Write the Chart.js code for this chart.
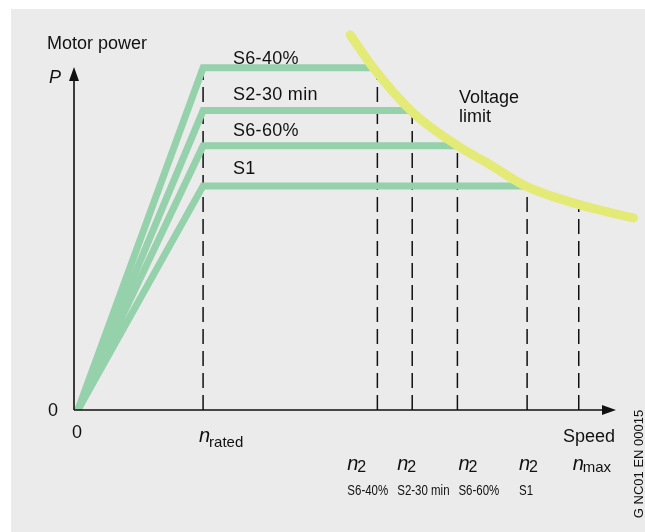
<!DOCTYPE html>
<html>
<head>
<meta charset="utf-8">
<script src="https://cdn.jsdelivr.net/npm/chart.js@4.4.1/dist/chart.umd.min.js"></script>
<style>
  body { margin: 0; background: #ffffff; }
  #wrap { position: relative; width: 645px; height: 532px; }
  #panel { position: absolute; left: 11px; top: 9px; right: 0; bottom: 0; background: #ebebeb; }
  #chart { position: absolute; left: 0; top: 0; }
</style>
</head>
<body>
<div id="wrap">
  <div id="panel"></div>
  <canvas id="chart" width="645" height="532"></canvas>
</div>
<script>
// speed in multiples of n_rated, power in multiples of S1 power
const nStart = 0.03;
const nRated = 1.0;
const nMax = 3.91;
const dutyNames = ['S6-40%', 'S2-30 min', 'S6-60%', 'S1'];
const dutyPower = [1.527, 1.336, 1.179, 1.0];
const dutyEnd = [2.31, 2.62, 2.97, 3.50];
const n2Speed = [2.35, 2.62, 2.97, 3.51];
const n2Names = ['S6-40%', 'S2-30 min', 'S6-60%', 'S1'];
const limitSpeed = [2.14, 2.318, 2.62, 2.969, 3.225, 3.496, 3.922, 4.333];
const limitPower = [1.674, 1.527, 1.33, 1.18, 1.094, 1.0, 0.915, 0.857];
const nMaxPower = 0.9;

const green = '#95d1ab';
const yellow = '#e3ea76';
const ink = '#111111';

const datasets = [];
datasets.push({
  label: 'Voltage limit',
  data: limitSpeed.map(function (n, i) { return { x: n, y: limitPower[i] }; }),
  borderColor: yellow, borderWidth: 9, borderCapStyle: 'round',
  cubicInterpolationMode: 'monotone', clip: false, order: 0
});
dutyNames.forEach(function (name, i) {
  datasets.push({
    label: name,
    data: [{ x: nStart, y: 0 }, { x: nRated, y: dutyPower[i] }, { x: dutyEnd[i], y: dutyPower[i] }],
    borderColor: green, borderWidth: 7, tension: 0,
    clip: { left: 0, top: false, right: false, bottom: 0 }, order: 1
  });
});
// dashed guides, drawn from the axis upward
const guides = [[nRated, dutyPower[0]]];
n2Speed.forEach(function (n, i) { guides.push([n, dutyPower[i]]); });
guides.push([nMax, nMaxPower]);
guides.forEach(function (g) {
  datasets.push({
    label: 'guide',
    data: [{ x: g[0], y: 0 }, { x: g[0], y: g[1] }],
    borderColor: ink, borderWidth: 1.5, borderDash: [15, 7], tension: 0,
    clip: false, order: 2
  });
});

function txt(ctx, s, x, y, font, align) {
  ctx.font = font;
  ctx.textAlign = align || 'left';
  ctx.textBaseline = 'alphabetic';
  ctx.fillText(s, x, y);
}

const overlay = {
  id: 'overlay',
  afterDatasetsDraw(chart) {
    const ctx = chart.ctx;
    const xs = chart.scales.x, ys = chart.scales.y;
    const x0 = xs.getPixelForValue(0), y0 = ys.getPixelForValue(0);
    const yTip = 67, xTip = 616;
    ctx.save();
    ctx.strokeStyle = ink; ctx.fillStyle = ink; ctx.lineWidth = 1.6;
    ctx.beginPath();
    ctx.moveTo(x0, y0); ctx.lineTo(x0, yTip + 10);
    ctx.moveTo(x0, y0); ctx.lineTo(xTip - 10, y0);
    ctx.stroke();
    ctx.beginPath();
    ctx.moveTo(x0, yTip); ctx.lineTo(x0 - 5, yTip + 14); ctx.lineTo(x0 + 5, yTip + 14); ctx.closePath();
    ctx.moveTo(xTip, y0); ctx.lineTo(xTip - 14, y0 - 5); ctx.lineTo(xTip - 14, y0 + 5); ctx.closePath();
    ctx.fill();

    const F = "'Liberation Sans', Arial, sans-serif";
    txt(ctx, 'Motor power', 47, 49, '18px ' + F);
    txt(ctx, 'P', 49, 83, 'italic 18px ' + F);
    ctx.textBaseline = 'middle';
    ctx.font = '18px ' + F; ctx.textAlign = 'center';
    ctx.fillText('0', x0 - 21, y0 + 1);
    txt(ctx, '0', x0 + 3, 438, '18px ' + F, 'center');
    txt(ctx, 'Speed', 615, 442, '18px ' + F, 'right');

    // duty labels above the flat parts
    const lblDy = [-4, -11, -10, -12];
    dutyNames.forEach(function (name, i) {
      ctx.save();
      ctx.letterSpacing = '0.3px';
      txt(ctx, name, 233, ys.getPixelForValue(dutyPower[i]) + lblDy[i], '18px ' + F);
      ctx.restore();
    });
    txt(ctx, 'Voltage', 459, 103, '18px ' + F);
    txt(ctx, 'limit', 459, 122, '18px ' + F);

    // speed labels
    const pr = xs.getPixelForValue(nRated) - 4;
    txt(ctx, 'n', pr, 442, 'italic 20px ' + F);
    txt(ctx, 'rated', pr + 10, 447, '15px ' + F);
    const n2Dx = [-30, -15, 1, -8];
    n2Speed.forEach(function (n, i) {
      const px = xs.getPixelForValue(n) + n2Dx[i];
      txt(ctx, 'n', px, 470, 'italic 20px ' + F);
      txt(ctx, '2', px + 10, 472, '16px ' + F);
      ctx.save();
      ctx.translate(px, 495);
      ctx.scale(0.82, 1);
      txt(ctx, n2Names[i], 0, 0, '14px ' + F);
      ctx.restore();
    });
    const pm = xs.getPixelForValue(nMax) - 6;
    txt(ctx, 'n', pm, 470, 'italic 20px ' + F);
    txt(ctx, 'max', pm + 10, 472, '15px ' + F);

    ctx.save();
    ctx.translate(643, 464);
    ctx.rotate(-Math.PI / 2);
    txt(ctx, 'G NC01 EN 00015', 0, 0, '13px ' + F, 'center');
    ctx.restore();
    ctx.restore();
  }
};

new Chart(document.getElementById('chart'), {
  type: 'line',
  data: { datasets: datasets },
  options: {
    responsive: false,
    animation: false,
    layout: { padding: { left: 74, right: 3, top: 29, bottom: 122 } },
    elements: { point: { radius: 0 } },
    scales: {
      x: { type: 'linear', min: 0, max: 4.4, display: false },
      y: { type: 'linear', min: 0, max: 1.7, display: false }
    },
    plugins: { legend: { display: false }, tooltip: { enabled: false } }
  },
  plugins: [overlay]
});
</script>
</body>
</html>
